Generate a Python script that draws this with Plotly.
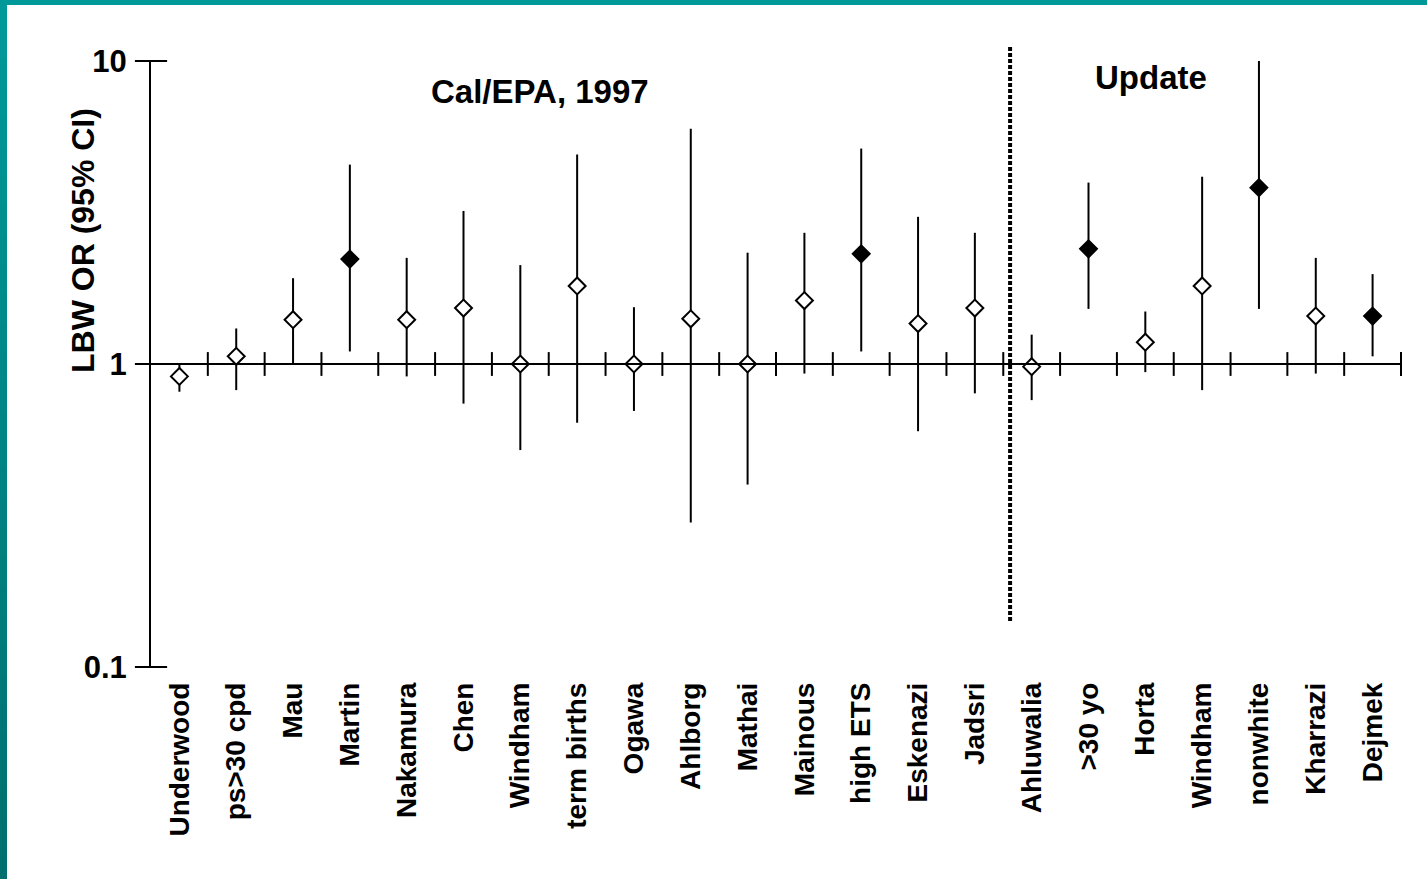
import plotly.graph_objects as go

# ---- data ----
labels = ["Underwood", "ps>30 cpd", "Mau", "Martin", "Nakamura", "Chen", "Windham",
          "term births", "Ogawa", "Ahlborg", "Mathai", "Mainous", "high ETS", "Eskenazi",
          "Jadsri", "Ahluwalia", ">30 yo", "Horta", "Windham", "nonwhite", "Kharrazi", "Dejmek"]
or_vals = [0.91, 1.06, 1.40, 2.22, 1.40, 1.53, 1.00, 1.81, 1.00, 1.41, 1.00, 1.62, 2.31, 1.36,
           1.53, 0.98, 2.40, 1.18, 1.81, 3.82, 1.44, 1.44]
ci_lo = [0.81, 0.82, 1.00, 1.10, 0.91, 0.74, 0.52, 0.64, 0.70, 0.30, 0.40, 0.93, 1.10, 0.60,
         0.80, 0.76, 1.52, 0.94, 0.82, 1.52, 0.93, 1.06]
ci_hi = [1.00, 1.31, 1.92, 4.55, 2.24, 3.20, 2.12, 4.91, 1.54, 5.98, 2.33, 2.71, 5.14, 3.06,
         2.71, 1.25, 3.97, 1.49, 4.15, 10.0, 2.24, 1.98]
filled = [False, False, False, True, False, False, False, False, False, False, False, False,
          True, False, False, False, True, False, False, True, False, True]
y_ticks = [0.1, 1, 10]
y_ticktext = ["0.1", "1", "10"]
divider_x = 14.62
section_titles = ["Cal/EPA, 1997", "Update"]
section_x = [6.35, 17.1]
section_y = [0.949, 0.972]

FONT = "Liberation Sans, Arial, sans-serif"
W, H = 1427, 879
L, R, T, B = 151, 26, 61, 212
PW, PH = W - L - R, H - T - B

def px_x(p):
    return (p - L) / PW

def px_y(p):
    return (H - B - p) / PH

xs = list(range(len(labels)))

fig = go.Figure()

# x axis line ticks at category boundaries (crossing the y=1 line)
bounds = [k + 0.5 for k in range(len(labels))]
fig.add_trace(go.Scatter(
    x=bounds, y=[1] * len(bounds), mode="markers",
    marker=dict(symbol="line-ns", size=17, line=dict(width=2, color="black")),
    hoverinfo="skip", showlegend=False, cliponaxis=False))

# y axis crossing ticks
fig.add_trace(go.Scatter(
    x=[-0.5] * len(y_ticks), y=y_ticks, mode="markers",
    marker=dict(symbol="line-ew", size=23, line=dict(width=2, color="black")),
    hoverinfo="skip", showlegend=False, cliponaxis=False))

# data points with CIs
fig.add_trace(go.Scatter(
    x=xs, y=or_vals, mode="markers",
    error_y=dict(type="data", symmetric=False,
                 array=[h - v for h, v in zip(ci_hi, or_vals)],
                 arrayminus=[v - l for v, l in zip(or_vals, ci_lo)],
                 thickness=2, width=0, color="black"),
    marker=dict(symbol="diamond", size=13,
                color=["black" if f else "white" for f in filled],
                line=dict(width=2, color="black")),
    showlegend=False, cliponaxis=False))

shapes = []
# horizontal axis line at OR = 1 (middle of log range)
shapes.append(dict(type="line", xref="x", yref="y domain", x0=-0.5, x1=len(labels) - 0.5,
                   y0=0.5, y1=0.5, line=dict(color="black", width=2)))
# divider
shapes.append(dict(type="line", xref="x", yref="paper", x0=divider_x, x1=divider_x,
                   y0=px_y(621), y1=px_y(45), line=dict(color="black", width=4, dash="4px,2px")))
# teal frame: top bar
shapes.append(dict(type="rect", xref="paper", yref="paper", x0=px_x(0), x1=px_x(W),
                   y0=px_y(5), y1=px_y(0), fillcolor="#009999", line=dict(width=0), layer="above"))
# left bar gradient
n = 30
for i in range(n):
    t = i / (n - 1)
    g = int(round(0x99 + (0x6f - 0x99) * t))
    shapes.append(dict(type="rect", xref="paper", yref="paper", x0=px_x(0), x1=px_x(7),
                       y0=px_y(H * (i + 1) / n + 1), y1=px_y(H * i / n),
                       fillcolor=f"rgb(0,{g},{g})", line=dict(width=0), layer="above"))

annotations = []
for txt, ax_, ay_ in zip(section_titles, section_x, section_y):
    annotations.append(dict(text=txt, xref="x", yref="paper", x=ax_, y=ay_, showarrow=False,
                            xanchor="center", yanchor="middle",
                            font=dict(family=FONT, size=33, color="black", weight="bold")))
annotations.append(dict(text="LBW OR (95% CI)", xref="paper", yref="paper",
                        x=px_x(83), y=px_y(241), textangle=-90, showarrow=False,
                        xanchor="center", yanchor="middle",
                        font=dict(family=FONT, size=32, color="black", weight="bold")))

fig.update_layout(
    width=W, height=H,
    margin=dict(l=L, r=R, t=T, b=B, pad=0),
    paper_bgcolor="white", plot_bgcolor="white",
    shapes=shapes, annotations=annotations,
    xaxis=dict(range=[-0.5, len(labels) - 0.5], tickvals=xs, ticktext=labels,
               tickangle=-90, showgrid=False, zeroline=False, showline=False, ticks="",
               ticklabelstandoff=9,
               tickfont=dict(family=FONT, size=28, color="black", weight="bold")),
    yaxis=dict(type="log", range=[-1, 1], tickvals=y_ticks, ticktext=y_ticktext,
               showgrid=False, zeroline=False, showline=True, linecolor="black", linewidth=2,
               ticks="", ticklabelstandoff=16,
               tickfont=dict(family=FONT, size=31, color="black", weight="bold")),
)

fig.write_html("out.html", config={"displayModeBar": False},
               post_script="document.body.style.margin='0';document.body.style.overflow='hidden';")
